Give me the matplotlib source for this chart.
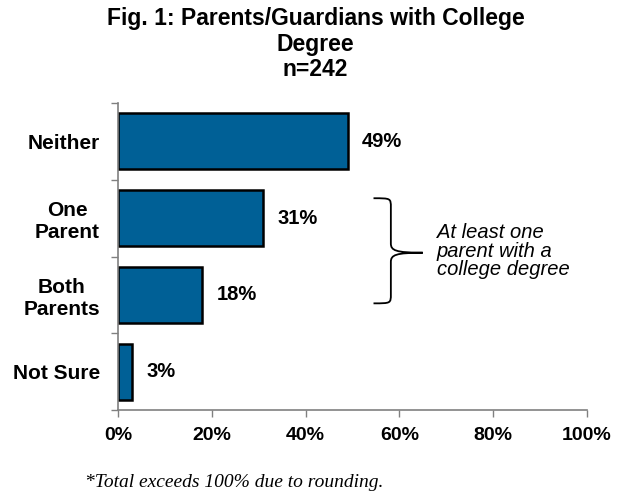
import matplotlib
matplotlib.use("Agg")
import matplotlib.pyplot as plt
from matplotlib.path import Path
from matplotlib.patches import PathPatch

categories = ["Neither", "One\nParent", "Both\nParents", "Not Sure"]
values = [49, 31, 18, 3]
value_labels = ["49%", "31%", "18%", "3%"]
x_ticks = [0, 20, 40, 60, 80, 100]
x_tick_labels = ["0%", "20%", "40%", "60%", "80%", "100%"]

plt.rcParams["font.family"] = ["Liberation Sans", "DejaVu Sans"]

fig = plt.figure(figsize=(6.31, 4.91), dpi=100)
ax = fig.add_axes([0.187, 0.165, 0.743, 0.625])

bar_color = "#006096"
pos = list(range(len(categories)))
ax.barh(pos, values, height=0.73, color=bar_color, edgecolor="black", linewidth=1.8)

for p, v, lab in zip(pos, values, value_labels):
    ax.text(v + 3.0, p, lab, va="center", ha="left", fontsize=14.5, fontweight="bold")

ax.set_xlim(0, 100)
ax.set_ylim(3.5, -0.5)
ax.set_xticks(x_ticks)
ax.set_xticklabels(x_tick_labels, fontsize=14, fontweight="bold")
ax.set_yticks([-0.5, 0.5, 1.5, 2.5, 3.5])
ax.set_yticklabels([])
ax.set_yticks(pos, minor=True)
ax.set_yticklabels(categories, minor=True, fontsize=15, fontweight="bold",
                   multialignment="center")
ax.tick_params(axis="y", which="minor", length=0, pad=13)
ax.tick_params(axis="y", which="major", length=5, color="#808080", width=1)
ax.tick_params(axis="x", length=5, color="#808080", width=1, pad=7)

for side in ["top", "right"]:
    ax.spines[side].set_visible(False)
for side in ["left", "bottom"]:
    ax.spines[side].set_color("#808080")
    ax.spines[side].set_linewidth(1.2)

# curly brace grouping the two "with degree" categories
x0, x1, xt = 54.5, 58.2, 65.0
y_top, y_mid, y_bot = 0.74, 1.45, 2.11
r = 0.12
verts = [
    (x0, y_top),
    (x1, y_top), (x1, y_top), (x1, y_top + r),
    (x1, y_mid - r),
    (x1, y_mid - 0.03), (x1 + 1.0, y_mid), (xt, y_mid),
    (x1 + 1.0, y_mid), (x1, y_mid + 0.03), (x1, y_mid + r),
    (x1, y_bot - r),
    (x1, y_bot), (x1, y_bot), (x0, y_bot),
]
codes = [Path.MOVETO,
         Path.CURVE4, Path.CURVE4, Path.CURVE4,
         Path.LINETO,
         Path.CURVE4, Path.CURVE4, Path.CURVE4,
         Path.CURVE4, Path.CURVE4, Path.CURVE4,
         Path.LINETO,
         Path.CURVE4, Path.CURVE4, Path.CURVE4]
ax.add_patch(PathPatch(Path(verts, codes), facecolor="none", edgecolor="black",
                       linewidth=1.3, clip_on=False))

ax.text(68.0, 1.43, "At least one\nparent with a\ncollege degree", fontsize=14.5,
        fontstyle="italic", va="center", ha="left", linespacing=0.95)

fig.text(0.5, 0.985, "Fig. 1: Parents/Guardians with College\nDegree\nn=242",
         ha="center", va="top", fontsize=16.5, fontweight="bold", linespacing=1.12)

fig.text(0.135, 0.018, "*Total exceeds 100% due to rounding.", ha="left", va="center",
         fontsize=14, fontstyle="italic", family=["Liberation Serif", "DejaVu Serif"])

fig.savefig("out.png", dpi=100)
